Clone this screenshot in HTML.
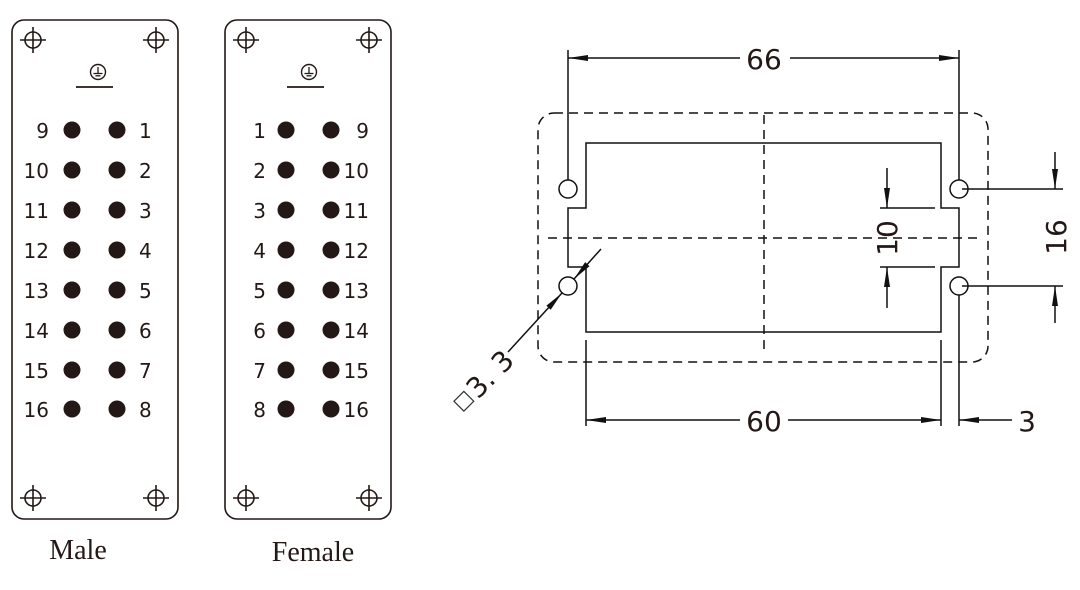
<!DOCTYPE html>
<html><head><meta charset="utf-8"><style>
html,body{margin:0;padding:0;background:#fff;width:1080px;height:590px;overflow:hidden}
svg text{font-family:"DejaVu Sans","Liberation Sans",sans-serif;fill:#231816}
</style></head><body>
<svg width="1080" height="590" viewBox="0 0 1080 590" xmlns="http://www.w3.org/2000/svg">
<defs>
<g id="ch"><circle r="8" fill="none" stroke="#231816" stroke-width="1.6"/><line x1="-13" y1="0" x2="13" y2="0" stroke="#231816" stroke-width="1.6"/><line x1="0" y1="-13" x2="0" y2="13" stroke="#231816" stroke-width="1.6"/></g>
<g id="gnd"><circle r="7.5" fill="none" stroke="#231816" stroke-width="1.4"/><line x1="-4.5" y1="1.5" x2="4.5" y2="1.5" stroke="#231816" stroke-width="1.3"/><line x1="-2.5" y1="3.8" x2="2.5" y2="3.8" stroke="#231816" stroke-width="1.3"/><line x1="0" y1="-5" x2="0" y2="1.5" stroke="#231816" stroke-width="1.3"/><line x1="-22" y1="15" x2="15" y2="15" stroke="#231816" stroke-width="1.8"/></g>
<marker id="ar" viewBox="0 0 20 8" refX="20" refY="4" markerWidth="20" markerHeight="8" markerUnits="userSpaceOnUse" orient="auto"><path d="M0,1 L20,4 L0,7 Z" fill="#111"/></marker>
</defs>
<!-- Male -->
<rect x="12" y="20" width="166" height="499" rx="12" fill="none" stroke="#231816" stroke-width="1.6"/>
<use href="#ch" x="33" y="40"/><use href="#ch" x="156" y="40"/><use href="#ch" x="33" y="498"/><use href="#ch" x="156" y="498"/>
<use href="#gnd" x="98" y="72"/>
<g fill="#231816">
<circle cx="72" cy="130" r="8.5"/><circle cx="117" cy="130" r="8.5"/>
<circle cx="72" cy="170" r="8.5"/><circle cx="117" cy="170" r="8.5"/>
<circle cx="72" cy="210" r="8.5"/><circle cx="117" cy="210" r="8.5"/>
<circle cx="72" cy="250" r="8.5"/><circle cx="117" cy="250" r="8.5"/>
<circle cx="72" cy="290" r="8.5"/><circle cx="117" cy="290" r="8.5"/>
<circle cx="72" cy="330" r="8.5"/><circle cx="117" cy="330" r="8.5"/>
<circle cx="72" cy="370" r="8.5"/><circle cx="117" cy="370" r="8.5"/>
<circle cx="72" cy="409" r="8.5"/><circle cx="117" cy="409" r="8.5"/>
</g>
<g font-size="20" text-anchor="end">
<text x="49" y="138">9</text><text x="49" y="178">10</text><text x="49" y="218">11</text><text x="49" y="258">12</text><text x="49" y="298">13</text><text x="49" y="338">14</text><text x="49" y="378">15</text><text x="49" y="417">16</text>
</g>
<g font-size="20">
<text x="139" y="138">1</text><text x="139" y="178">2</text><text x="139" y="218">3</text><text x="139" y="258">4</text><text x="139" y="298">5</text><text x="139" y="338">6</text><text x="139" y="378">7</text><text x="139" y="417">8</text>
</g>
<!-- Female -->
<rect x="225" y="20" width="166" height="499" rx="12" fill="none" stroke="#231816" stroke-width="1.6"/>
<use href="#ch" x="246" y="40"/><use href="#ch" x="369" y="40"/><use href="#ch" x="246" y="498"/><use href="#ch" x="369" y="498"/>
<use href="#gnd" x="309" y="72"/>
<g fill="#231816">
<circle cx="286" cy="130" r="8.5"/><circle cx="331" cy="130" r="8.5"/>
<circle cx="286" cy="170" r="8.5"/><circle cx="331" cy="170" r="8.5"/>
<circle cx="286" cy="210" r="8.5"/><circle cx="331" cy="210" r="8.5"/>
<circle cx="286" cy="250" r="8.5"/><circle cx="331" cy="250" r="8.5"/>
<circle cx="286" cy="290" r="8.5"/><circle cx="331" cy="290" r="8.5"/>
<circle cx="286" cy="330" r="8.5"/><circle cx="331" cy="330" r="8.5"/>
<circle cx="286" cy="370" r="8.5"/><circle cx="331" cy="370" r="8.5"/>
<circle cx="286" cy="409" r="8.5"/><circle cx="331" cy="409" r="8.5"/>
</g>
<g font-size="20" text-anchor="end">
<text x="266" y="138">1</text><text x="266" y="178">2</text><text x="266" y="218">3</text><text x="266" y="258">4</text><text x="266" y="298">5</text><text x="266" y="338">6</text><text x="266" y="378">7</text><text x="266" y="417">8</text>
</g>
<g font-size="20" text-anchor="end">
<text x="369" y="138">9</text><text x="369" y="178">10</text><text x="369" y="218">11</text><text x="369" y="258">12</text><text x="369" y="298">13</text><text x="369" y="338">14</text><text x="369" y="378">15</text><text x="369" y="417">16</text>
</g>
<text x="78" y="559" font-size="28" text-anchor="middle" style="font-family:'Liberation Serif',serif">Male</text>
<text x="313" y="561" font-size="28" text-anchor="middle" style="font-family:'Liberation Serif',serif">Female</text>

<!-- Right drawing -->
<g stroke="#111" fill="none" stroke-width="1.5">
<rect x="538" y="113" width="450" height="249" rx="16" stroke-dasharray="9,6"/>
<line x1="764" y1="115" x2="764" y2="352" stroke-dasharray="9,6"/>
<line x1="548" y1="238" x2="982" y2="238" stroke-dasharray="9,6"/>
<path d="M586,143 H941 V208 H959 V267 H941 V332 H586 V267 H568 V208 H586 Z"/>
<circle cx="568" cy="189" r="9"/><circle cx="568" cy="286" r="9"/>
<circle cx="959" cy="189" r="9"/><circle cx="959" cy="286" r="9"/>
<line x1="568" y1="50" x2="568" y2="180"/>
<line x1="959" y1="50" x2="959" y2="180"/>
<line x1="740" y1="58" x2="568" y2="58" marker-end="url(#ar)"/>
<line x1="790" y1="58" x2="959" y2="58" marker-end="url(#ar)"/>
<line x1="586" y1="340" x2="586" y2="426"/>
<line x1="941" y1="340" x2="941" y2="426"/>
<line x1="959" y1="295" x2="959" y2="426"/>
<line x1="740" y1="420" x2="586" y2="420" marker-end="url(#ar)"/>
<line x1="788" y1="420" x2="941" y2="420" marker-end="url(#ar)"/>
<line x1="1012" y1="420" x2="959" y2="420" marker-end="url(#ar)"/>
<line x1="880" y1="208" x2="935" y2="208"/>
<line x1="880" y1="267" x2="935" y2="267"/>
<line x1="887" y1="168" x2="887" y2="208" marker-end="url(#ar)"/>
<line x1="887" y1="308" x2="887" y2="267" marker-end="url(#ar)"/>
<line x1="962" y1="189" x2="1063" y2="189"/>
<line x1="962" y1="286" x2="1063" y2="286"/>
<line x1="1055" y1="152" x2="1055" y2="189" marker-end="url(#ar)"/>
<line x1="1055" y1="323" x2="1055" y2="286" marker-end="url(#ar)"/>
<line x1="508" y1="352" x2="562" y2="293" marker-end="url(#ar)"/>
<line x1="601" y1="249" x2="574" y2="279" marker-end="url(#ar)"/>
</g>
<g font-size="28" text-anchor="middle">
<text x="764" y="69">66</text>
<text x="764" y="431">60</text>
<text x="1027" y="431">3</text>
<text x="0" y="0" transform="translate(897,238) rotate(-90)">10</text>
<text x="0" y="0" transform="translate(1066,237) rotate(-90)">16</text>
</g>
<g transform="translate(478,397) rotate(-45)">
<rect x="-20" y="-14" width="14" height="14" fill="none" stroke="#333" stroke-width="1.2"/>
<text x="-2" y="2" font-size="28">3. 3</text>
</g>
</svg>
</body></html>
